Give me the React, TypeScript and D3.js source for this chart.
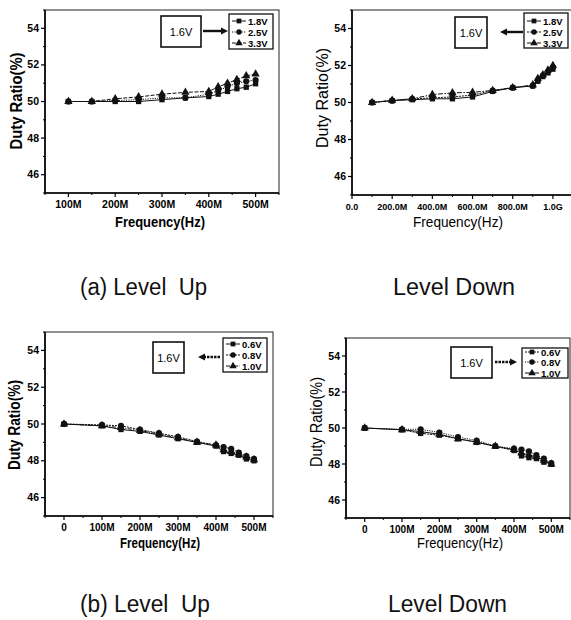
import React from "react";
import * as d3 from "d3";

// ---------- DATA ----------
const yTicks = [46, 48, 50, 52, 54];
const yTickLabels = ["46", "48", "50", "52", "54"];
const yMinor = [45, 47, 49, 51, 53, 55];

// (a) Level Up
const p1Freq = [100, 150, 200, 250, 300, 350, 400, 420, 440, 460, 480, 500];
const p1V18 = [50.0, 50.0, 50.0, 50.0, 50.1, 50.2, 50.27, 50.4, 50.55, 50.7, 50.78, 50.97];
const p1V25 = [50.0, 50.0, 50.05, 50.1, 50.2, 50.2, 50.4, 50.6, 50.8, 51.0, 51.1, 51.17];
const p1V33 = [50.0, 50.0, 50.15, 50.25, 50.4, 50.5, 50.55, 50.8, 51.0, 51.2, 51.4, 51.5];
const p1XTicks = [100, 200, 300, 400, 500];
const p1XLabels = ["100M", "200M", "300M", "400M", "500M"];
const p1XMinor = [50, 150, 250, 350, 450, 550];

// (a) Level Down
const p2Freq = [100, 200, 300, 400, 500, 600, 700, 800, 900, 925, 950, 975, 1000];
const p2V18 = [50.0, 50.1, 50.15, 50.2, 50.2, 50.3, 50.6, 50.8, 50.9, 51.15, 51.4, 51.6, 51.8];
const p2V25 = [50.0, 50.1, 50.2, 50.25, 50.3, 50.4, 50.65, 50.8, 50.9, 51.2, 51.45, 51.65, 51.9];
const p2V33 = [50.0, 50.12, 50.2, 50.43, 50.52, 50.55, 50.65, 50.8, 50.95, 51.3, 51.5, 51.75, 52.0];
const p2XTicks = [0, 200, 400, 600, 800, 1000];
const p2XLabels = ["0.0", "200.0M", "400.0M", "600.0M", "800.0M", "1.0G"];
const p2XMinor = [100, 300, 500, 700, 900];

// (b) Level Up
const p3Freq = [0, 100, 150, 200, 250, 300, 350, 400, 420, 440, 460, 480, 500];
const p3V06 = [50.0, 49.9, 49.7, 49.6, 49.4, 49.2, 49.0, 48.8, 48.5, 48.4, 48.3, 48.1, 48.0];
const p3V08 = [50.0, 49.95, 49.9, 49.7, 49.5, 49.3, 49.05, 48.85, 48.75, 48.65, 48.45, 48.25, 48.1];
const p3V10 = [50.0, 49.9, 49.8, 49.65, 49.45, 49.25, 49.0, 48.85, 48.6, 48.5, 48.35, 48.2, 48.05];
const p34XTicks = [0, 100, 200, 300, 400, 500];
const p34XLabels = ["0", "100M", "200M", "300M", "400M", "500M"];
const p34XMinor = [-50, 50, 150, 250, 350, 450, 550];

// (b) Level Down
const p4Freq = [0, 100, 150, 200, 250, 300, 350, 400, 420, 440, 460, 480, 500];
const p4V06 = [50.0, 49.9, 49.7, 49.6, 49.4, 49.2, 48.98, 48.75, 48.45, 48.35, 48.3, 48.1, 47.98];
const p4V08 = [50.0, 49.93, 49.93, 49.75, 49.5, 49.3, 49.0, 48.85, 48.8, 48.7, 48.5, 48.3, 48.05];
const p4V10 = [50.0, 49.9, 49.8, 49.65, 49.4, 49.22, 48.98, 48.8, 48.6, 48.5, 48.4, 48.2, 48.0];

const upNames = ["1.8V", "2.5V", "3.3V"];
const downNames = ["0.6V", "0.8V", "1.0V"];
const infoText = "1.6V";

// ---------- RENDERING ----------
const FONT = "'Liberation Sans', Arial, sans-serif";
const SYMS = [d3.symbolSquare, d3.symbolCircle, d3.symbolTriangle];
const SYM_SIZE = [28, 30, 30];

type Series = { name: string; values: number[]; dash: string };

type PanelCfg = {
  left: number; right: number; top: number; bottom: number;
  xDomain: [number, number];
  freq: number[];
  series: Series[];
  xTicks: number[]; xLabels: string[]; xMinor: number[];
  xLabelSize: number;
  xTitle: { x: number; y: number; bold: boolean; len: number };
  yTitle: { x: number; y: number; bold: boolean; len: number };
  info: { x: number; y: number; w: number; h: number };
  legend: { x: number; y: number; w: number; h: number; rows: number[] };
  arrow: { from: number; to: number; y: number; dashed: boolean };
};

function Panel({ c }: { c: PanelCfg }) {
  const x = d3.scaleLinear().domain(c.xDomain).range([c.left, c.right]);
  const y = d3.scaleLinear().domain([45, 55]).range([c.bottom, c.top]);
  const line = d3
    .line<number>()
    .x((_, i) => x(c.freq[i]))
    .y((d) => y(d));
  const dir = c.arrow.to > c.arrow.from ? 1 : -1;
  const headLen = 7;
  return (
    <g fontFamily={FONT}>
      <rect x={c.left} y={c.top} width={c.right - c.left} height={c.bottom - c.top} fill="white" stroke="#222" strokeWidth={1} />
      <line x1={c.left} x2={c.left} y1={c.top} y2={c.bottom} stroke="#000" strokeWidth={1.6} />
      <line x1={c.left} x2={c.right} y1={c.bottom} y2={c.bottom} stroke="#000" strokeWidth={1.6} />
      {yTicks.map((t, i) => (
        <g key={"yt" + i}>
          <line x1={c.left - 4} x2={c.left} y1={y(t)} y2={y(t)} stroke="#000" strokeWidth={1.2} />
          <text x={c.left - 6} y={y(t) + 3.5} fontSize={10.5} fontWeight="bold" textAnchor="end">
            {yTickLabels[i]}
          </text>
        </g>
      ))}
      {yMinor.map((t, i) => (
        <line key={"ym" + i} x1={c.left - 2} x2={c.left} y1={y(t)} y2={y(t)} stroke="#000" strokeWidth={1} />
      ))}
      {c.xTicks.map((t, i) => (
        <g key={"xt" + i}>
          <line x1={x(t)} x2={x(t)} y1={c.bottom} y2={c.bottom + 4} stroke="#000" strokeWidth={1.2} />
          <text x={x(t)} y={c.bottom + 15} fontSize={c.xLabelSize} fontWeight="bold" textAnchor="middle">
            {c.xLabels[i]}
          </text>
        </g>
      ))}
      {c.xMinor.map((t, i) => (
        <line key={"xm" + i} x1={x(t)} x2={x(t)} y1={c.bottom} y2={c.bottom + 2} stroke="#000" strokeWidth={1} />
      ))}
      <text x={c.xTitle.x} y={c.xTitle.y} fontSize={15} fontWeight={c.xTitle.bold ? "bold" : "normal"} textAnchor="middle" textLength={c.xTitle.len} lengthAdjust="spacingAndGlyphs">
        Frequency(Hz)
      </text>
      <text transform={`translate(${c.yTitle.x},${c.yTitle.y}) rotate(-90)`} y={5} fontSize={16} fontWeight={c.yTitle.bold ? "bold" : "normal"} textAnchor="middle" textLength={c.yTitle.len} lengthAdjust="spacingAndGlyphs">
        Duty Ratio(%)
      </text>
      {c.series.map((s, si) => (
        <g key={"s" + si}>
          <path d={line(s.values) || ""} fill="none" stroke="#111" strokeWidth={1} strokeDasharray={s.dash} />
          {s.values.map((v, i) => (
            <path key={i} transform={`translate(${x(c.freq[i])},${y(v)})`} d={d3.symbol().type(SYMS[si]).size(SYM_SIZE[si])() || ""} fill="#111" />
          ))}
        </g>
      ))}
      <rect x={c.info.x} y={c.info.y} width={c.info.w} height={c.info.h} fill="white" stroke="#111" strokeWidth={1.6} />
      <text x={c.info.x + c.info.w / 2} y={c.info.y + c.info.h / 2 + 4} fontSize={11} textAnchor="middle">
        {infoText}
      </text>
      <line x1={c.arrow.from} x2={c.arrow.to - dir * headLen} y1={c.arrow.y} y2={c.arrow.y} stroke="#111" strokeWidth={2.4} strokeDasharray={c.arrow.dashed ? "2.5,1" : undefined} />
      <polygon points={`${c.arrow.to},${c.arrow.y} ${c.arrow.to - dir * headLen},${c.arrow.y - 3.5} ${c.arrow.to - dir * headLen},${c.arrow.y + 3.5}`} fill="#111" />
      <rect x={c.legend.x} y={c.legend.y} width={c.legend.w} height={c.legend.h} fill="white" stroke="#111" strokeWidth={1.3} />
      {c.series.map((s, si) => (
        <g key={"l" + si}>
          <line x1={c.legend.x + 3} x2={c.legend.x + 17} y1={c.legend.rows[si]} y2={c.legend.rows[si]} stroke="#111" strokeWidth={1} strokeDasharray={s.dash} />
          <path transform={`translate(${c.legend.x + 10},${c.legend.rows[si]})`} d={d3.symbol().type(SYMS[si]).size(SYM_SIZE[si] * 0.8)() || ""} fill="#111" />
          <text x={c.legend.x + 19} y={c.legend.rows[si] + 3.5} fontSize={9.5} fontWeight="bold">
            {s.name}
          </text>
        </g>
      ))}
    </g>
  );
}

const panels: PanelCfg[] = [
  {
    left: 45, right: 279, top: 10, bottom: 193, xDomain: [50, 550], freq: p1Freq,
    series: [
      { name: upNames[0], values: p1V18, dash: "" },
      { name: upNames[1], values: p1V25, dash: "1.2,1.2" },
      { name: upNames[2], values: p1V33, dash: "4,1.5" },
    ],
    xTicks: p1XTicks, xLabels: p1XLabels, xMinor: p1XMinor, xLabelSize: 10.5,
    xTitle: { x: 160, y: 227, bold: true, len: 90 },
    yTitle: { x: 17, y: 101, bold: true, len: 97 },
    info: { x: 161, y: 16, w: 40, h: 31 },
    legend: { x: 229, y: 14, w: 44, h: 35, rows: [21, 32, 43] },
    arrow: { from: 203, to: 228, y: 31, dashed: false },
  },
  {
    left: 352, right: 573, top: 10, bottom: 195, xDomain: [0, 1100], freq: p2Freq,
    series: [
      { name: upNames[0], values: p2V18, dash: "" },
      { name: upNames[1], values: p2V25, dash: "2,1" },
      { name: upNames[2], values: p2V33, dash: "5,1.5,1.5,1.5" },
    ],
    xTicks: p2XTicks, xLabels: p2XLabels, xMinor: p2XMinor, xLabelSize: 9,
    xTitle: { x: 458, y: 227, bold: false, len: 90 },
    yTitle: { x: 323, y: 98, bold: false, len: 100 },
    info: { x: 455, y: 17, w: 32, h: 31 },
    legend: { x: 524, y: 13, w: 44, h: 35, rows: [21, 32, 43] },
    arrow: { from: 523, to: 500, y: 32, dashed: false },
  },
  {
    left: 45, right: 273, top: 332, bottom: 516, xDomain: [-50, 550], freq: p3Freq,
    series: [
      { name: downNames[0], values: p3V06, dash: "" },
      { name: downNames[1], values: p3V08, dash: "2,1" },
      { name: downNames[2], values: p3V10, dash: "4,1.5,1,1.5" },
    ],
    xTicks: p34XTicks, xLabels: p34XLabels, xMinor: p34XMinor, xLabelSize: 10,
    xTitle: { x: 160, y: 548, bold: true, len: 80 },
    yTitle: { x: 15, y: 425, bold: true, len: 90 },
    info: { x: 153, y: 342, w: 31, h: 31 },
    legend: { x: 223, y: 338, w: 44, h: 34, rows: [344, 355, 366] },
    arrow: { from: 220, to: 198, y: 357, dashed: true },
  },
  {
    left: 346, right: 570, top: 338, bottom: 518, xDomain: [-50, 550], freq: p4Freq,
    series: [
      { name: downNames[0], values: p4V06, dash: "2,1" },
      { name: downNames[1], values: p4V08, dash: "1.2,1.2" },
      { name: downNames[2], values: p4V10, dash: "" },
    ],
    xTicks: p34XTicks, xLabels: p34XLabels, xMinor: p34XMinor, xLabelSize: 10,
    xTitle: { x: 460, y: 548, bold: false, len: 86 },
    yTitle: { x: 317, y: 422, bold: false, len: 90 },
    info: { x: 451, y: 347, w: 41, h: 31 },
    legend: { x: 522, y: 348, w: 46, h: 30, rows: [352, 362, 373] },
    arrow: { from: 495, to: 517, y: 362, dashed: true },
  },
];

const captions = [
  { text: "(a) Level  Up", x: 80, y: 295, len: 127 },
  { text: "Level Down", x: 393, y: 295, len: 122 },
  { text: "(b) Level  Up", x: 80, y: 612, len: 130 },
  { text: "Level Down", x: 388, y: 612, len: 119 },
];

export default function App() {
  return (
    <svg width={571} height={620} style={{ position: "absolute", left: 0, top: 0, background: "white" }}>
      <rect width={571} height={620} fill="white" />
      {panels.map((p, i) => (
        <Panel key={i} c={p} />
      ))}
      {captions.map((cap, i) => (
        <text key={i} x={cap.x} y={cap.y} fontFamily={FONT} fontSize={23} textLength={cap.len} lengthAdjust="spacingAndGlyphs" fill="#111" style={{ whiteSpace: "pre" }}>
          {cap.text}
        </text>
      ))}
    </svg>
  );
}
